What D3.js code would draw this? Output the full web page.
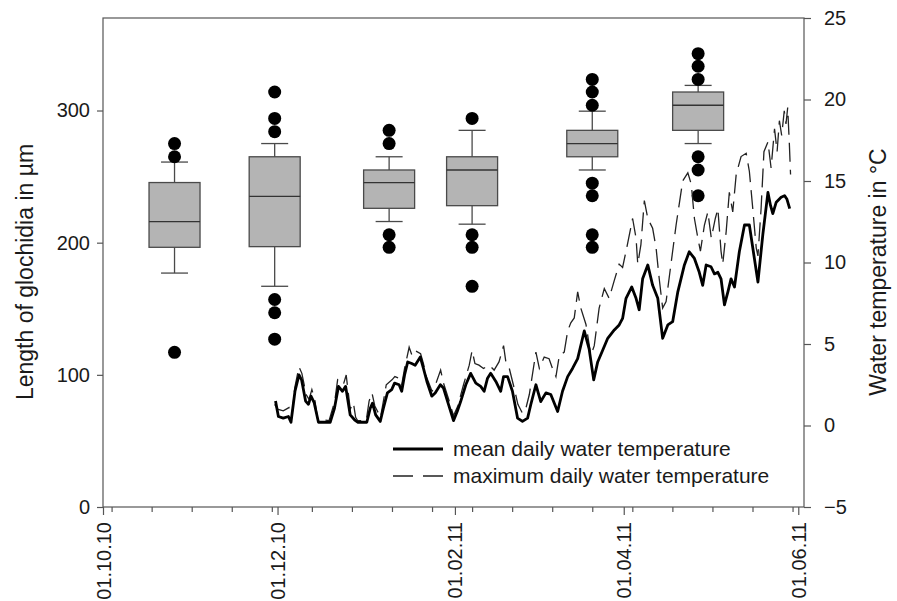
<!DOCTYPE html>
<html>
<head>
<meta charset="utf-8">
<script src="https://cdn.jsdelivr.net/npm/d3@7/dist/d3.min.js"></script>
<style>
    body { margin: 0; background: #fff; }
    svg { display: block; font-family: "Liberation Sans", Arial, sans-serif; }
    .axis path { display: none; }
    .axis line { stroke: #555; stroke-width: 1.2px; }
    .axis text { fill: #1a1a1a; font-size: 20px; }
</style>
</head>
<body>
<div id="chart"></div>
<script>
// glochidia length per sampling date (box statistics, in µm)
var sampleDates = ["26.10.10", "30.11.10", "09.01.11", "07.02.11", "21.03.11", "27.04.11"];
var whiskerLow = [177, 167, 216, 214, 255, 275];
var q1 = [196.5, 197, 226, 228, 265, 285];
var median = [216, 235, 245.5, 255, 275, 304];
var q3 = [245.5, 265, 255, 265, 285, 314];
var whiskerHigh = [261, 275, 265, 285, 299.5, 319];
var outliers = [
    [275, 265, 117],
    [314, 294, 284, 157, 147, 127],
    [285, 275, 206, 196.5],
    [294, 206, 196.5, 167],
    [323.5, 314, 304, 245, 235.5, 206, 196.5],
    [343, 333.5, 323.5, 265, 255, 235.5]
];

// water temperature, [days after 01.10.10, °C]
var meanTemp = [
    [60.3, 1.5], [61.3, 0.55], [63, 0.45], [64.8, 0.55], [65.7, 0.2], [67.1, 2.1], [68.5, 3.1], [69.4, 2.8],
    [70.8, 1.5], [71.8, 1.3], [72.7, 1.8], [73.8, 1.4], [75.3, 0.2], [79.4, 0.2], [80.9, 1.06], [82.3, 2.4],
    [83.7, 2.1], [84.8, 2.4], [86.4, 0.65], [87.9, 0.35], [89, 0.2], [92.2, 0.2], [93.4, 1.06], [94.2, 1.37],
    [95.3, 0.65], [96.9, 0.25], [98, 1.06], [99.4, 2.0], [100.9, 2.2], [101.9, 2.6], [103.5, 2.5], [104.4, 2.1],
    [105.4, 3.1], [106.5, 3.9], [107.9, 3.8], [109.1, 3.7], [110.9, 4.2], [112, 3.5], [113.2, 2.7], [114.9, 1.8],
    [116.1, 2.0], [117.9, 2.5], [119, 2.3], [120.8, 1.27], [122.5, 0.3], [123.8, 0.86], [125, 1.47], [126.8, 2.5],
    [128.5, 3.2], [130.3, 2.6], [132, 2.4], [133.2, 2.1], [134.4, 2.9], [135.5, 3.2], [137.3, 2.7], [139, 2.1],
    [140, 3.0], [141.4, 3.0], [143.1, 2.1], [144.9, 0.45], [146.6, 0.25], [148.4, 0.45], [149.5, 1.27], [151.3, 2.5],
    [153, 1.47], [154.8, 2.0], [156.5, 1.9], [158.9, 0.86], [160.6, 2.1], [162.4, 3.0], [164.1, 3.5], [165.9, 4.1],
    [168.2, 5.8], [169.9, 4.7], [171.5, 2.8], [172.9, 3.9], [174.6, 4.6], [176.4, 5.35], [178.7, 5.86], [180.4, 6.17],
    [181.6, 6.57], [182.8, 7.8], [184.8, 8.5], [186.3, 7.8], [187.4, 7.1], [188.6, 9.0], [190.4, 9.85], [192.1, 8.6],
    [193.9, 7.8], [195.6, 5.35], [197.4, 6.17], [199.1, 6.37], [200.9, 8.2], [203.2, 9.85], [204.9, 10.66], [206.7, 10.25],
    [208.4, 9.4], [209.6, 8.6], [210.8, 9.85], [212.5, 9.74], [213.7, 9.3], [214.9, 9.4], [216, 9.0], [217.2, 7.4],
    [218.4, 8.2], [219.5, 9.0], [220.7, 8.5], [222.4, 10.66], [224.2, 12.3], [225.9, 12.3], [227.1, 10.9], [228.9, 8.8],
    [230.6, 11.7], [232.4, 14.3], [233.3, 13.5], [234.1, 13.0], [235.3, 13.7], [237, 14.0], [238.2, 14.1], [239, 13.9],
    [240, 13.3]
];
var maxTemp = [
    [60, 1.3], [61, 1.0], [63, 0.9], [65, 1.1], [66, 0.5], [67, 2.3], [68.5, 3.6], [69.5, 3.2],
    [71, 1.9], [72, 1.6], [73, 2.2], [74, 1.6], [75, 0.4], [79, 0.3], [81, 1.5], [82, 2.8],
    [84, 2.5], [85, 3.1], [86.4, 1.0], [87.5, 1.4], [88.3, 0.5], [89, 0.3], [92, 0.3], [93, 1.5],
    [94, 2.0], [95, 1.2], [97, 0.5], [98, 1.5], [99, 2.5], [101, 2.8], [102, 3.0], [103.5, 2.9],
    [104.4, 2.5], [105.4, 3.5], [107, 4.8], [108, 4.3], [109, 4.6], [111, 4.4], [112, 3.8], [113, 3.0],
    [115, 2.1], [116, 2.4], [118, 3.4], [119, 2.6], [121, 1.5], [122.5, 0.6], [124, 1.2], [126, 2.5],
    [128, 3.7], [129, 4.6], [130, 3.8], [131.4, 3.7], [133, 3.5], [135, 3.7], [136.7, 3.4], [138.4, 3.9],
    [140, 4.9], [140.8, 3.9], [142, 3.5], [143.7, 2.3], [145, 1.3], [146.6, 0.75], [147.8, 1.06], [149, 1.9],
    [151.3, 4.5], [152.5, 3.5], [154.2, 4.2], [155.9, 4.1], [157.1, 3.5], [158.3, 3.0], [159.5, 4.3], [161.2, 4.5],
    [162.4, 5.8], [163.5, 6.3], [164.7, 6.6], [165.9, 8.2], [167, 7.2], [168.8, 6.2], [170.5, 4.3], [171.7, 4.9],
    [173.4, 7.2], [175.2, 8.4], [176.9, 7.8], [178.7, 8.9], [180.4, 9.9], [181.6, 9.7], [183.4, 11.2], [185.1, 12.7],
    [186.3, 11.5], [186.9, 9.9], [188, 11.1], [189.2, 13.8], [190.4, 12.7], [192.1, 12.1], [193.3, 10.9], [194.4, 9.0],
    [195.6, 7.2], [196.8, 7.6], [198.5, 9.9], [200.3, 12.3], [202.6, 15.0], [204.4, 15.5], [205.6, 14.8], [206.7, 12.7],
    [207.9, 11.5], [208.8, 10.7], [210.2, 12.3], [211.4, 13.1], [212.6, 11.5], [214, 12.7], [214.9, 13.3], [216, 10.7],
    [216.6, 9.9], [217.8, 11.9], [218.9, 14.3], [220.1, 13.1], [221.3, 15.4], [223, 16.5], [224.8, 16.7], [225.9, 15.6],
    [227.1, 13.3], [228.3, 10.9], [228.9, 10.4], [230, 13.3], [231, 16.8], [232.4, 17.4], [233.5, 15.8], [234.7, 18.2],
    [235.6, 16.8], [236.4, 18.7], [237.2, 17.8], [238.1, 19.3], [238.7, 18.5], [239.3, 19.5], [239.9, 17.2], [240.3, 15.4]
];

var dateTicks = ["01.10.10", "01.12.10", "01.02.11", "01.04.11", "01.06.11"];
var lengthTicks = [0, 100, 200, 300];
var tempTicks = [-5, 0, 5, 10, 15, 20, 25];
var legendLabels = ["mean daily water temperature", "maximum daily water temperature"];

var width = 897, height = 601;
var margin = {top: 18, right: 93, bottom: 94, left: 103};
var parse = d3.timeParse("%d.%m.%y");
var start = parse("01.10.10");
var dayToDate = function (d) { return new Date(start.getTime() + d * 864e5); };

var svg = d3.select("#chart").append("svg")
    .attr("width", width)
    .attr("height", height);

var x = d3.scaleTime()
    .domain([start, parse("03.06.11")])
    .range([margin.left, width - margin.right]);
var yLen = d3.scaleLinear().domain([0, 370]).range([height - margin.bottom, margin.top]);
var yTemp = d3.scaleLinear().domain([-5, 25]).range([height - margin.bottom, margin.top]);

// minor ticks every second Monday
var minorTicks = d3.timeDay.range(parse("04.10.10"), parse("03.06.11"), 14);

svg.append("g")
    .attr("class", "axis")
    .attr("transform", "translate(0," + (height - margin.bottom) + ")")
    .call(d3.axisBottom(x).tickValues(minorTicks).tickSize(5).tickFormat(""));

svg.append("g")
    .attr("class", "axis")
    .attr("transform", "translate(0," + (height - margin.bottom) + ")")
    .call(d3.axisBottom(x).tickValues(dateTicks.map(parse)).tickSize(8).tickFormat(d3.timeFormat("%d.%m.%y")))
    .selectAll("text")
    .attr("transform", "rotate(-90)")
    .attr("x", -15)
    .attr("y", 0)
    .attr("dy", "0.35em")
    .style("text-anchor", "end");

svg.append("g")
    .attr("class", "axis")
    .attr("transform", "translate(" + margin.left + ",0)")
    .call(d3.axisLeft(yLen).tickValues(lengthTicks).tickSize(6).tickPadding(7));

svg.append("g")
    .attr("class", "axis")
    .attr("transform", "translate(" + (width - margin.right) + ",0)")
    .call(d3.axisRight(yTemp).tickValues(tempTicks).tickSize(7).tickPadding(13));

// frame
svg.append("rect")
    .attr("x", margin.left)
    .attr("y", margin.top)
    .attr("width", width - margin.left - margin.right)
    .attr("height", height - margin.top - margin.bottom)
    .attr("fill", "none")
    .attr("stroke", "#555")
    .attr("stroke-width", 1.2);

// boxes
var boxW = 51, capW = 27;
var boxes = sampleDates.map(function (s, i) {
    return {date: parse(s), lo: whiskerLow[i], q1: q1[i], med: median[i], q3: q3[i], hi: whiskerHigh[i], out: outliers[i]};
});
var bg = svg.selectAll("g.box").data(boxes).enter().append("g")
    .attr("class", "box")
    .attr("stroke", "#4a4a4a")
    .attr("stroke-width", 1.3);

bg.append("line")
    .attr("x1", function (d) { return x(d.date); })
    .attr("x2", function (d) { return x(d.date); })
    .attr("y1", function (d) { return yLen(d.lo); })
    .attr("y2", function (d) { return yLen(d.hi); });
bg.append("line")
    .attr("x1", function (d) { return x(d.date) - capW / 2; })
    .attr("x2", function (d) { return x(d.date) + capW / 2; })
    .attr("y1", function (d) { return yLen(d.lo); })
    .attr("y2", function (d) { return yLen(d.lo); });
bg.append("line")
    .attr("x1", function (d) { return x(d.date) - capW / 2; })
    .attr("x2", function (d) { return x(d.date) + capW / 2; })
    .attr("y1", function (d) { return yLen(d.hi); })
    .attr("y2", function (d) { return yLen(d.hi); });
bg.append("rect")
    .attr("x", function (d) { return x(d.date) - boxW / 2; })
    .attr("width", boxW)
    .attr("y", function (d) { return yLen(d.q3); })
    .attr("height", function (d) { return yLen(d.q1) - yLen(d.q3); })
    .attr("fill", "#b4b4b4");
bg.append("line")
    .attr("x1", function (d) { return x(d.date) - boxW / 2; })
    .attr("x2", function (d) { return x(d.date) + boxW / 2; })
    .attr("y1", function (d) { return yLen(d.med); })
    .attr("y2", function (d) { return yLen(d.med); })
    .attr("stroke", "#333");
bg.selectAll("circle")
    .data(function (d) { return d.out.map(function (v) { return {date: d.date, v: v}; }); })
    .enter().append("circle")
    .attr("cx", function (d) { return x(d.date); })
    .attr("cy", function (d) { return yLen(d.v); })
    .attr("r", 6.5)
    .attr("fill", "#000")
    .attr("stroke", "none");

// temperature lines
var line = d3.line()
    .x(function (d) { return x(dayToDate(d[0])); })
    .y(function (d) { return yTemp(d[1]); });

svg.append("path")
    .datum(maxTemp)
    .attr("d", line)
    .attr("fill", "none")
    .attr("stroke", "#222")
    .attr("stroke-width", 1.3)
    .attr("stroke-dasharray", "19,8");

svg.append("path")
    .datum(meanTemp)
    .attr("d", line)
    .attr("fill", "none")
    .attr("stroke", "#000")
    .attr("stroke-width", 2.8)
    .attr("stroke-linejoin", "round");

// legend
var legend = svg.append("g").attr("transform", "translate(393,449)");
legend.append("line").attr("x1", 0).attr("x2", 50).attr("y1", 0).attr("y2", 0)
    .attr("stroke", "#000").attr("stroke-width", 2.8);
legend.append("line").attr("x1", 0).attr("x2", 50).attr("y1", 27).attr("y2", 27)
    .attr("stroke", "#222").attr("stroke-width", 1.3).attr("stroke-dasharray", "20,10");
legend.selectAll("text").data(legendLabels).enter().append("text")
    .attr("x", 60)
    .attr("y", function (d, i) { return i * 27; })
    .attr("dy", "0.35em")
    .attr("fill", "#1a1a1a")
    .style("font-size", "21px")
    .text(function (d) { return d; });

// axis titles
svg.append("text")
    .attr("transform", "translate(25,272) rotate(-90)")
    .attr("text-anchor", "middle")
    .attr("dy", "0.35em")
    .attr("fill", "#1a1a1a")
    .style("font-size", "23px")
    .text("Length of glochidia in µm");

svg.append("text")
    .attr("transform", "translate(878,272) rotate(-90)")
    .attr("text-anchor", "middle")
    .attr("dy", "0.35em")
    .attr("fill", "#1a1a1a")
    .style("font-size", "23px")
    .text("Water temperature in °C");
</script>
</body>
</html>
